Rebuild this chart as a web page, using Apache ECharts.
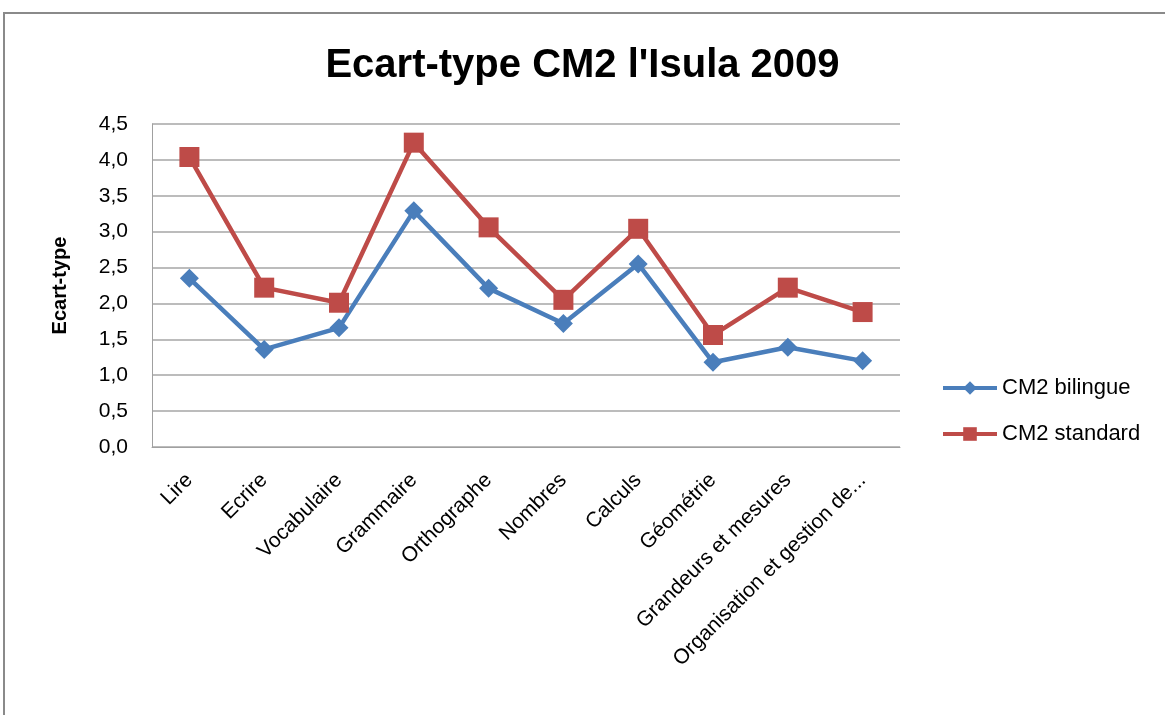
<!DOCTYPE html>
<html>
<head>
<meta charset="utf-8">
<script src="https://cdn.jsdelivr.net/npm/echarts@6/dist/echarts.min.js"></script>
<style>
  html, body { margin: 0; padding: 0; background: #fff; }
  #chart { width: 1165px; height: 715px; }
</style>
</head>
<body>
<div id="chart"></div>
<script>
  // catégories et valeurs
  const matieres = ['Lire', 'Ecrire', 'Vocabulaire', 'Grammaire', 'Orthographe', 'Nombres',
    'Calculs', 'Géométrie', 'Grandeurs et mesures', 'Organisation et gestion de...'];
  const bilingue = [2.35, 1.36, 1.66, 3.29, 2.21, 1.72, 2.55, 1.18, 1.39, 1.20];
  const standard = [4.04, 2.22, 2.01, 4.24, 3.06, 2.05, 3.04, 1.56, 2.22, 1.88];

  const police = '"Liberation Sans", Arial, sans-serif';
  const chart = echarts.init(document.getElementById('chart'));
  chart.setOption({
    animation: false,
    textStyle: { fontFamily: police },
    graphic: [{
      type: 'rect',
      shape: { x: 4, y: 13, width: 1300, height: 900 },
      style: { fill: 'none', stroke: '#8a8a8a', lineWidth: 2 },
      silent: true
    }],
    title: {
      text: "Ecart-type CM2 l'Isula 2009",
      left: 'center',
      top: 41,
      textStyle: { fontSize: 40, fontWeight: 'bold', color: '#000', fontFamily: police }
    },
    grid: { left: 152, right: 265, top: 124, bottom: 268 },
    legend: {
      orient: 'vertical',
      left: 936,
      top: 372,
      itemGap: 24,
      itemWidth: 54,
      itemHeight: 17,
      lineStyle: { width: 4 },
      textStyle: { fontSize: 22, color: '#000', fontFamily: police },
      data: ['CM2 bilingue', 'CM2 standard']
    },
    xAxis: {
      type: 'category',
      data: matieres,
      boundaryGap: true,
      axisLine: { show: true, lineStyle: { color: '#a0a0a0', width: 1 } },
      axisTick: { show: false },
      axisLabel: { rotate: 45, interval: 0, fontSize: 21, color: '#000', margin: 30 }
    },
    yAxis: {
      type: 'value',
      min: 0,
      max: 4.5,
      interval: 0.5,
      name: 'Ecart-type',
      nameLocation: 'middle',
      nameGap: 82,
      nameTextStyle: { fontSize: 20, fontWeight: 'bold', color: '#000' },
      axisLine: { show: true, lineStyle: { color: '#a0a0a0', width: 1 } },
      axisTick: { show: false },
      axisLabel: {
        fontSize: 21, color: '#000', margin: 24,
        formatter: v => v.toFixed(1).replace('.', ',')
      },
      splitLine: { show: true, lineStyle: { color: '#a6a6a6', width: 1.5 } }
    },
    series: [{
      name: 'CM2 bilingue',
      type: 'line',
      symbol: 'diamond',
      symbolSize: 19,
      lineStyle: { color: '#4a7ebb', width: 4.5 },
      itemStyle: { color: '#4a7ebb' },
      data: bilingue
    }, {
      name: 'CM2 standard',
      type: 'line',
      symbol: 'rect',
      symbolSize: 20,
      lineStyle: { color: '#be4b48', width: 4.5 },
      itemStyle: { color: '#be4b48' },
      data: standard
    }]
  });
</script>
</body>
</html>
